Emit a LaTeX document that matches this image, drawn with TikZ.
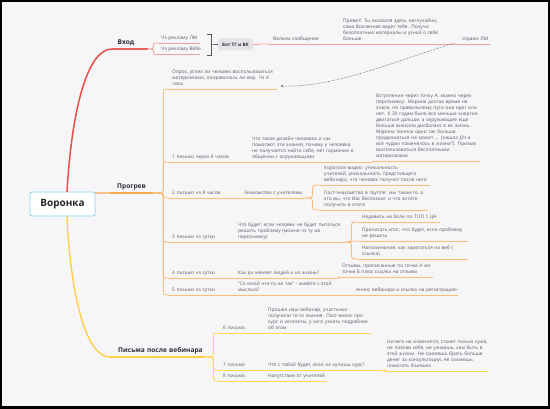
\documentclass[tikz,border=0pt]{standalone}
\usepackage{fontspec}
\setmainfont{Open Sans}
\usetikzlibrary{calc,arrows.meta}
\definecolor{bgc}{HTML}{F6F6F8}
\definecolor{subtxt}{HTML}{5A5B63}
\definecolor{maintxt}{HTML}{2D2E38}
\definecolor{redm}{HTML}{EC4D45}
\definecolor{reds}{HTML}{F3A0A0}
\definecolor{orm}{HTML}{F7A654}
\definecolor{ors}{HTML}{FABD7A}
\definecolor{yem}{HTML}{FFCF45}
\definecolor{yes}{HTML}{FFD65E}
\definecolor{boxblue}{HTML}{8FCFF3}
\definecolor{botfill}{HTML}{E4E4E8}
\definecolor{relc}{HTML}{77787F}
\newcommand\ml[2][4pt]{\begin{tabular}[b]{@{\hspace{#1}}l@{}}#2\end{tabular}}
\tikzset{
  sub/.style={anchor=south west, inner sep=0pt, inner ysep=1.6pt, align=left,
    font=\fontsize{4.8}{6}\selectfont, text=subtxt},
  mainlbl/.style={anchor=south west, inner sep=0pt, inner ysep=2pt, align=left,
    font=\fontsize{6.6}{8}\selectfont\bfseries, text=maintxt},
  centerbox/.style={draw=boxblue, line width=0.9pt, fill=white, rounded corners=2pt,
    minimum width=65pt, minimum height=24pt, inner sep=0pt,
    font=\fontsize{10}{12}\selectfont\bfseries, text=black!85},
  botbox/.style={fill=botfill, rounded corners=1.5pt, minimum width=35pt, minimum height=12pt,
    inner sep=0pt, font=\fontsize{4.6}{5.5}\selectfont\bfseries, text=maintxt},
  redmain/.style={draw=redm, line width=1.5pt, line cap=round},
  redsub/.style={draw=reds, line width=0.9pt},
  ormain/.style={draw=orm, line width=1.3pt},
  orsub/.style={draw=ors, line width=0.9pt},
  yemain/.style={draw=yem, line width=1.4pt},
  yesub/.style={draw=yes, line width=0.9pt},
  brk/.style={draw=black!65, line width=0.7pt},
  rel/.style={draw=relc, line width=0.6pt, dash pattern=on 0.7pt off 0.8pt,
    -{Stealth[length=3pt,width=2.6pt]}},
  elbow/.style={to path={
    let \p1=(\tikztostart), \p2=(\tikztotarget),
        \n1={ifthenelse(\y2>\y1,1,-1)},
        \n2={min(6,abs(\y2-\y1)/2)}
    in .. controls ({\x1+#1},\y1) .. ({\x1+#1},{\y1+(\n1)*\n2})
       -- ({\x1+#1},{\y2-(\n1)*\n2})
       .. controls ({\x1+#1},\y2) .. (\p2)}},
  elbow/.default=8
}
\begin{document}
\begin{tikzpicture}[x=1pt,y=-1pt]
\useasboundingbox (0,0) rectangle (550,409);
\fill[black] (0,0) rectangle (550,409);
\fill[bgc] (2,2.5) rectangle (548,406.5);

% central topic
\node[centerbox] (center) at (62.5,204) {Воронка};

% ---------- red branch ----------
\node[mainlbl, text width=36pt] (vhod) at (112,49) {\ml[5.5pt]{Вход}};
\node[sub, text width=42pt] (lm1) at (158,43) {\ml[3pt]{Чз рекламу ЛМ}};
\node[sub, text width=42pt] (lm2) at (158,54.5) {\ml[3pt]{Чз рекламу Вёба}};
\node[botbox] (bot) at (235.5,44.5) {Бот ТГ и ВК};
\node[sub, text width=70pt] (welcome) at (269,44) {\ml{Велком сообщение}};
\node[sub, text width=116pt] (privet) at (339,44) {\ml{Привет! Ты оказался здесь неслучайно,\\сама Вселенная ведет тебя. Получи\\безоплатные материалы и узнай о себе\\больше}};
\node[sub, text width=32pt] (otdaem) at (458,44) {\ml{отдаем ЛМ}};

\draw[redmain] ([xshift=4.5pt]center.north) .. controls +(5,-85) and +(-24,0) .. (vhod.south west);
\draw[redsub] (vhod.south east) to[elbow=5] (lm1.south west);
\draw[redsub] (vhod.south east) to[elbow=5] (lm2.south west);
\draw[brk] (207,34.5) -- (211,34.5) -- (211,55) -- (207,55);
\draw[brk] (211,44.7) -- (bot.west);
\draw[redsub] (bot.east) to[elbow=6] (welcome.south west);
\draw[redsub] (welcome.south east) -- (privet.south west);
\draw[redsub] (privet.south east) -- (otdaem.south west);
\foreach \q in {lm1,lm2,welcome,privet,otdaem}
  \draw[redsub] (\q.south west) -- (\q.south east);
\draw[draw=redm!75!reds, line width=1.2pt] (vhod.south west) -- (vhod.south east);

% ---------- orange branch ----------
\node[mainlbl, text width=43pt] (progrev) at (110,193) {\ml[7pt]{Прогрев}};
\node[sub, text width=109pt] (opros) at (168,89) {\ml{Опрос, успел ли человек воспользоваться\\материалами, понравилось ли ему. Чз 4\\часа}};
\node[sub, text width=80pt] (p1) at (168,162) {\ml{1 письмо через 8 часов}};
\node[sub, text width=124pt] (p1a) at (248,162) {\ml{Что такое дизайн человека и как\\помогают эти знания, почему у человека\\не получается найти себя, нет гармонии в\\общении с окружающими}};
\node[sub, text width=108pt] (p1b) at (372,161.5) {\ml{Вступление через точку А, можно через\\персонажку: Марина долгое время не\\знала, по правильному пути она идет или\\нет. К 30 годам было все меньше энергии\\двигаться дальше, а окружающие еще\\больше вносили дисбаланс в ее жизнь.\\Марина поняла одно так больше\\продолжаться не может ... (нашла ДЧ и\\всё чудом поменялось в жизни"). Призыв\\воспользоваться бесплатными\\материалами}};
\node[sub, text width=72pt] (p2) at (168,198) {\ml{2 письмо чз 8 часов}};
\node[sub, text width=65pt] (p2a) at (240,198) {\ml{Знакомство с учителями}};
\node[sub, text width=110pt] (p2b) at (320,185) {\ml{Короткое видео: уникальность\\учителей, уникальность предстоящего\\вебинара, что человек получит после него}};
\node[sub, text width=108pt] (p2c) at (320,210) {\ml{Пост-знакомство в группе: мы такие-то, а\\кто вы, что Вас беспокоит и что хотите\\получить в итоге}};
\node[sub, text width=66pt] (p3) at (168,242) {\ml{3 письмо чз сутки}};
\node[sub, text width=111pt] (p3a) at (234,242) {\ml{Что будет, если человек не будет пытаться\\решить проблему (можно чз ту же\\персонажку)}};
\node[sub, text width=82pt] (p3b) at (358,222) {\ml{Надавить на боли по ТОП 1 ЦА}};
\node[sub, text width=110pt] (p3c) at (358,241) {\ml{Прописать итог, что будет, если проблему\\не решить}};
\node[sub, text width=110pt] (p3d) at (358,259) {\ml{Напоминание, как зарегаться на веб (\\ссылка)}};
\node[sub, text width=66pt] (p4) at (168,278) {\ml{4 письмо чз сутки}};
\node[sub, text width=104pt] (p4a) at (234,278) {\ml{Как дч меняет людей и их жизнь?}};
\node[sub, text width=95pt] (p4b) at (338,277) {\ml{Отзывы, прописанные по точке А жо\\точке Б плюс ссылка на отзывы}};
\node[sub, text width=66pt] (p5) at (168,295) {\ml{5 письмо чз сутки}};
\node[sub, text width=118pt] (p5a) at (234,295) {\ml{“Со мной что-то не так” - живёте с этой\\мыслью?}};
\node[sub, text width=106pt] (p5b) at (352,295) {\ml{Анонс вебинара и ссылка на регистрацию}};

\draw[ormain] ([yshift=-1.5pt]center.north east) .. controls +(6,0) and +(-6,0) .. (progrev.south west);
\draw[ormain] (progrev.south west) -- (progrev.south east);
\foreach \q in {opros,p1,p2,p3,p4,p5}
  \draw[orsub] (progrev.south east) to[elbow=10] (\q.south west);
\draw[orsub] (p1.south east) -- (p1a.south west);
\draw[orsub] (p1a.south east) to[elbow=2] (p1b.south west);
\draw[orsub] (p2.south east) -- (p2a.south west);
\draw[orsub] (p2a.south east) to[elbow=7] (p2b.south west);
\draw[orsub] (p2a.south east) to[elbow=7] (p2c.south west);
\draw[orsub] (p3.south east) -- (p3a.south west);
\foreach \q in {p3b,p3c,p3d}
  \draw[orsub] (p3a.south east) to[elbow=6] (\q.south west);
\draw[orsub] (p4.south east) -- (p4a.south west);
\draw[orsub] (p4a.south east) to[elbow=2] (p4b.south west);
\draw[orsub] (p5.south east) -- (p5a.south west);
\draw[orsub] (p5a.south east) -- (p5b.south west);
\foreach \q in {opros,p1,p1a,p1b,p2,p2a,p2b,p2c,p3,p3a,p3b,p3c,p3d,p4,p4a,p4b,p5,p5a,p5b}
  \draw[orsub] (\q.south west) -- (\q.south east);

% ---------- yellow branch ----------
\node[mainlbl, text width=95pt] (posle) at (110,357) {\ml[8pt]{Письма после вебинара}};
\node[sub, text width=46pt] (p6) at (218,333) {\ml[5pt]{6 письмо}};
\node[sub, text width=107pt] (p6a) at (264,333) {\ml{Прошел наш вебинар, участники\\получили то-то знания. Пост-анонс про\\курс и контакты, у кого узнать подробнее\\об этом}};
\node[sub, text width=46pt] (p7) at (218,370) {\ml[5pt]{7 письмо}};
\node[sub, text width=119pt] (p7a) at (264,370) {\ml{Что с тобой будет, если не купишь курс?}};
\node[sub, text width=106pt] (p7b) at (383,371) {\ml{Ничего не изменится, станет только хуже,\\не познав себя, не узнаешь, кем быть в\\этой жизни. Не сможешь брать больше\\денег за консультации, не сможешь\\помогать близким}};
\node[sub, text width=46pt] (p8) at (218,381) {\ml[5pt]{8 письмо}};
\node[sub, text width=63pt] (p8a) at (264,381) {\ml{Напутствие от учителей}};

\draw[yemain] ([xshift=4.5pt]center.south) .. controls +(3,70) and +(-26,0) .. (posle.south west);
\draw[yemain] (posle.south west) -- (posle.south east);
\foreach \q in {p6,p7,p8}
  \draw[yesub] (posle.south east) to[elbow=8] (\q.south west);
\draw[yesub] (p6.south east) -- (p6a.south west);
\draw[yesub] (p7.south east) -- (p7a.south west);
\draw[yesub] (p7a.south east) to[elbow=2] (p7b.south west);
\draw[yesub] (p8.south east) -- (p8a.south west);
\foreach \q in {p6,p6a,p7,p7a,p7b,p8,p8a}
  \draw[yesub] (\q.south west) -- (\q.south east);

% ---------- relationship ----------
\draw[rel] ([xshift=-3pt,yshift=1pt]otdaem.south west) .. controls +(-55,16) and +(55,2) .. ([xshift=3pt,yshift=3pt]opros.south east);
\end{tikzpicture}
\end{document}
